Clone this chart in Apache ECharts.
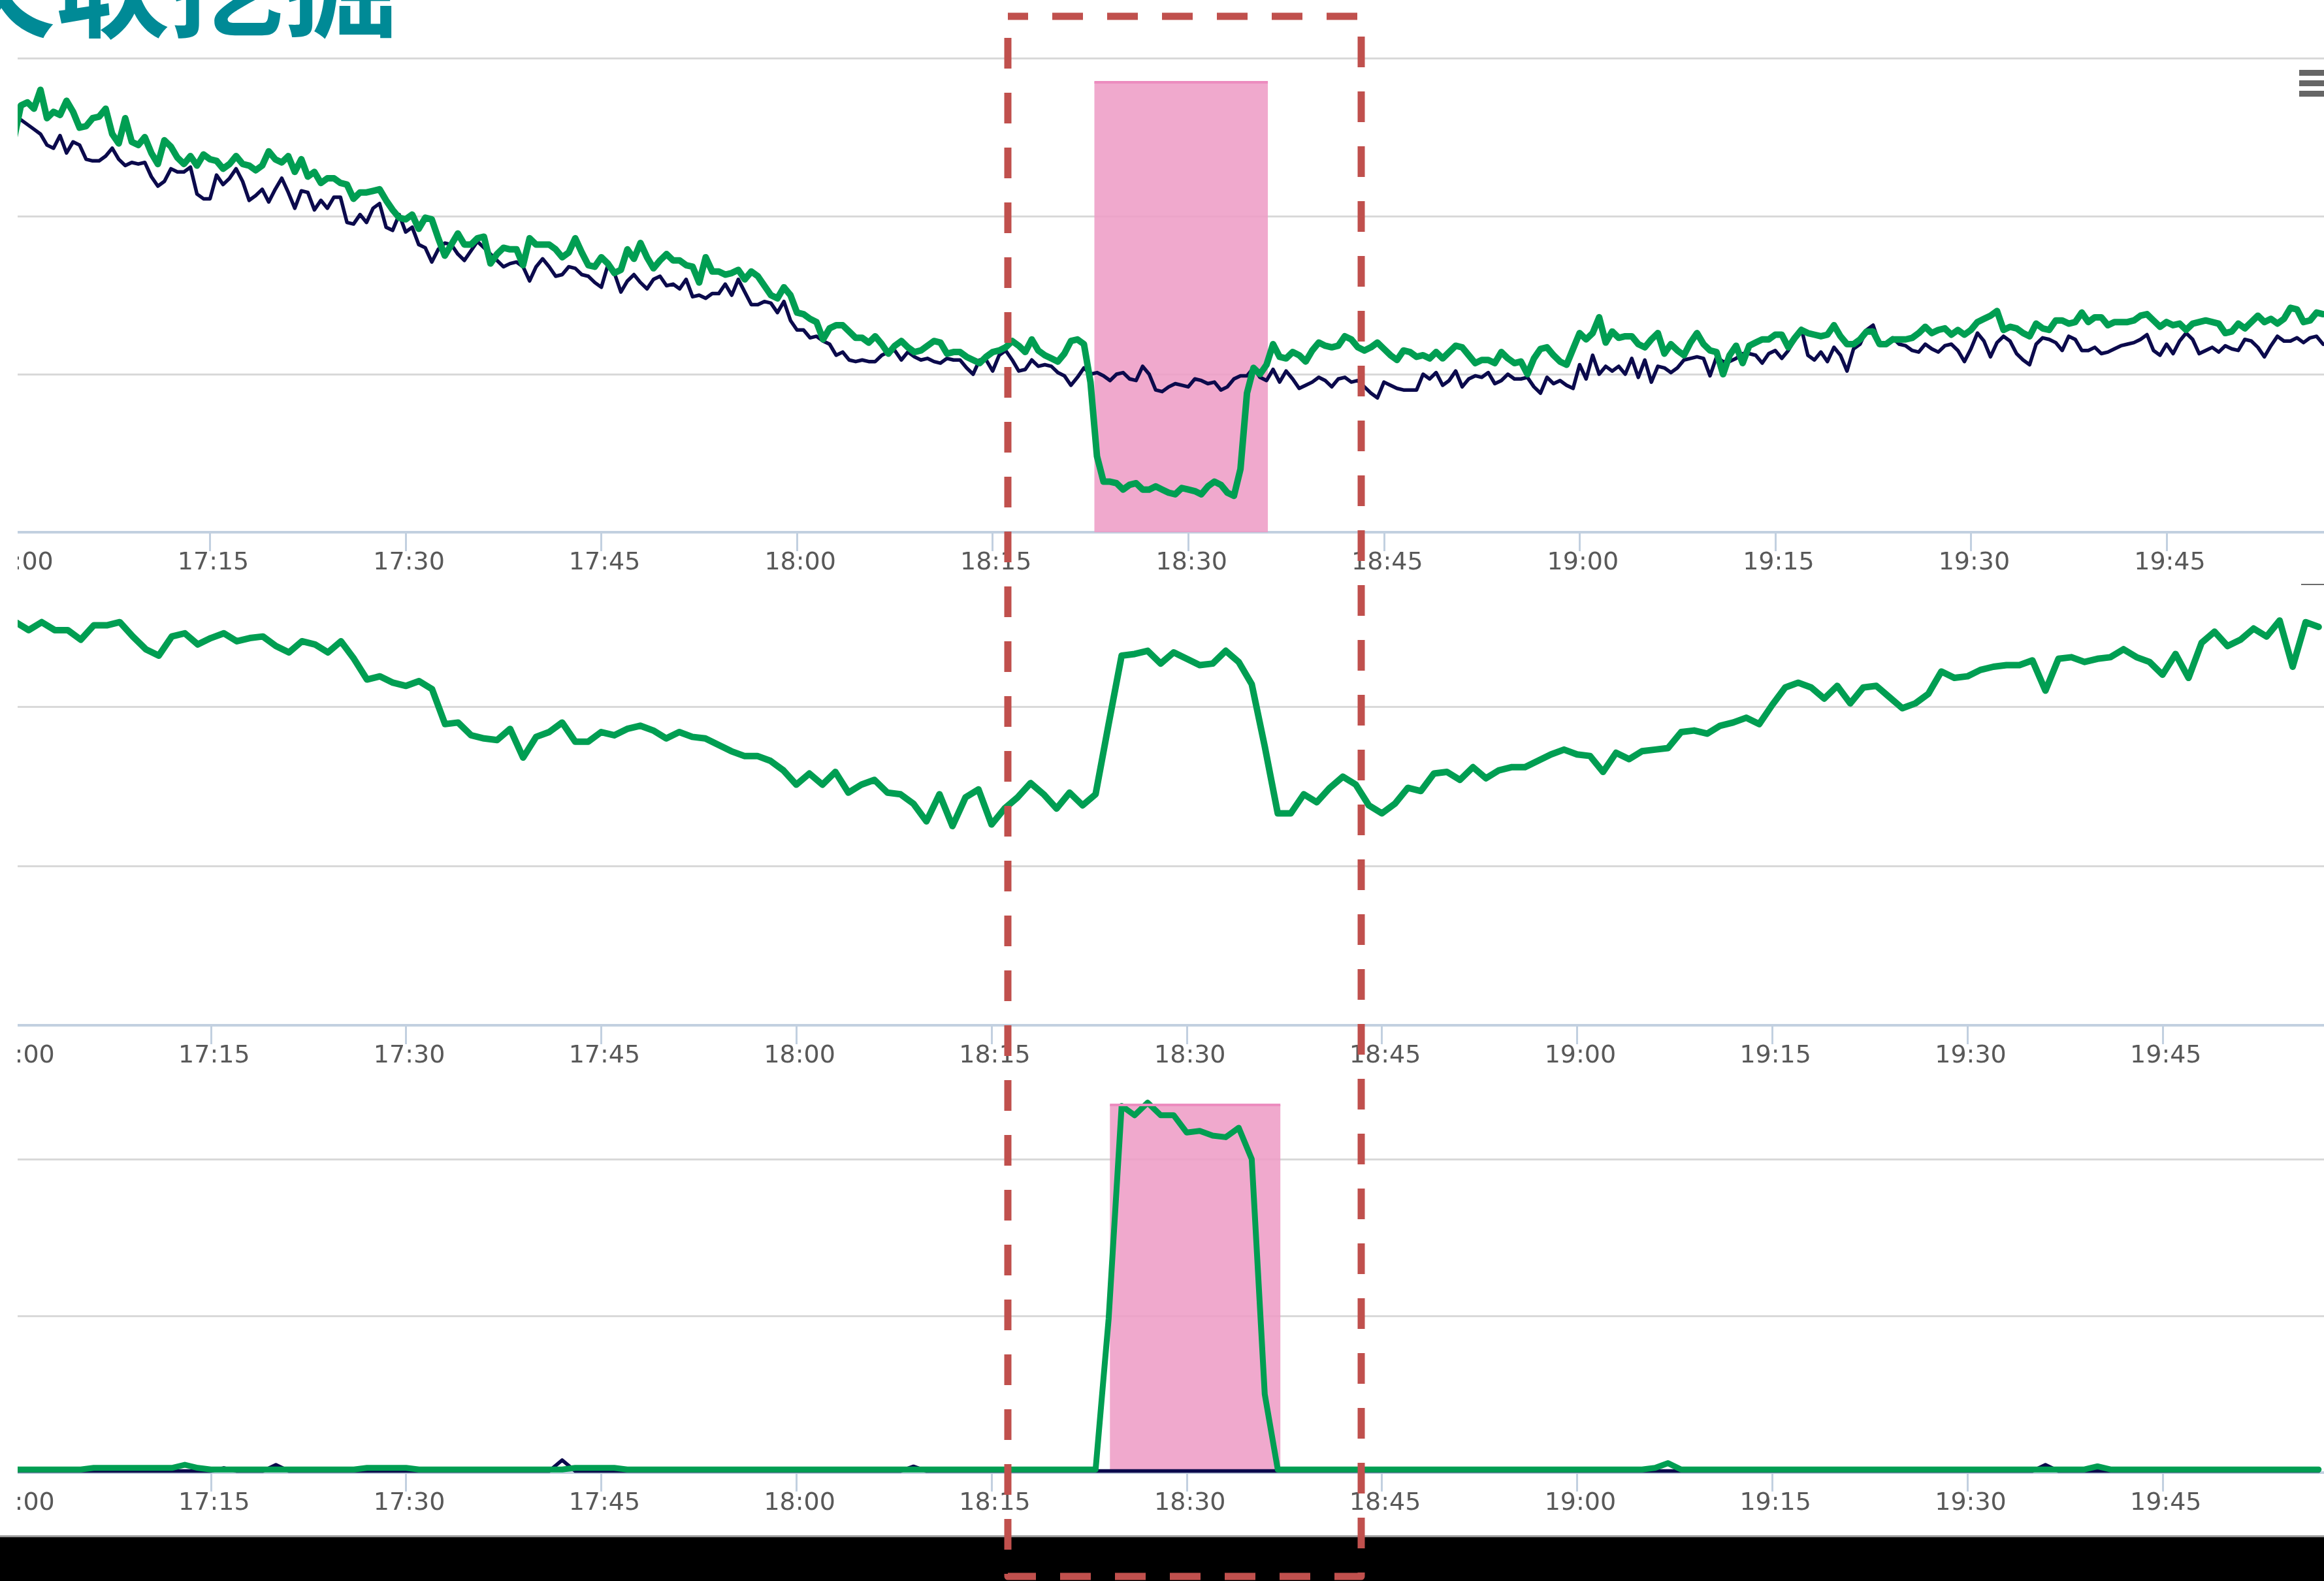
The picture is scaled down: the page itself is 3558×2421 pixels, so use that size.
<!DOCTYPE html>
<html>
<head>
<meta charset="utf-8">
<script src="https://cdn.jsdelivr.net/npm/echarts@6.0.0/dist/echarts.min.js"></script>
<style>
html,body{margin:0;padding:0;background:#fff;}
#main{width:3558px;height:2421px;}
</style>
</head>
<body>
<div id="main"></div>
<script>
// minutes after 17:00 on every x axis
var startHour = 17;
var step1 = 0.5;   // top chart sampled every 30 s
var step2 = 1;     // other two every minute

// top chart, dark line
var navy1 = [
262,261,258,255,252,245,243,251,240,247,
245,236,235,235,238,243,236,232,234,233,
234,225,219,222,230,228,228,231,214,211,
211,226,220,224,230,222,210,213,217,209,
217,224,215,205,216,215,204,210,205,212,
212,196,195,201,196,205,208,193,191,201,
190,193,182,180,171,179,183,182,176,172,
178,184,180,176,172,168,170,171,168,159,
168,173,168,162,163,168,167,163,162,158,
155,169,164,152,159,163,158,154,160,162,
156,157,154,160,149,150,148,151,151,157,
150,160,152,144,144,146,145,139,146,134,
128,128,123,124,121,119,112,114,109,108,
109,108,108,112,114,115,109,114,111,109,
110,108,107,110,109,109,104,100,109,109,
102,112,115,109,102,103,109,105,106,105,
101,99,93,98,104,100,101,99,96,100,
101,97,96,105,100,90,89,92,94,93,
92,97,96,94,95,90,92,97,99,99,
104,98,96,103,95,102,97,91,93,95,
98,96,92,97,98,95,96,92,88,85,
95,93,91,90,90,90,100,97,101,93,
96,102,92,97,99,98,101,94,96,100,
97,97,98,92,88,98,94,96,93,91,
106,97,112,100,105,102,105,100,110,98,
109,95,105,104,101,104,109,110,111,110,
99,111,108,108,110,113,113,112,107,113,
115,110,115,122,129,112,109,114,108,117,
112,102,116,119,128,131,119,120,123,119,
118,115,114,119,116,114,118,119,115,108,
116,126,121,111,120,124,121,113,109,106,
119,123,122,120,115,124,122,115,115,117,
113,114,116,118,119,120,122,125,115,112,
119,113,121,126,122,113,115,117,114,118,
116,115,122,121,117,111,118,124,121,121,
123,120,123,124,119
];
// top chart, green line
var green1 = [
250,270,272,268,280,262,266,264,273,266,
256,257,262,263,268,252,246,262,247,245,
250,240,233,248,244,237,233,238,232,239,
236,235,230,233,238,233,232,229,232,241,
236,234,238,228,236,225,228,221,224,224,
221,220,211,215,215,216,217,210,204,199,
198,201,192,199,198,186,175,182,189,182,
182,186,187,170,176,180,179,179,169,186,
182,182,182,179,174,177,186,177,169,168,
174,170,164,166,179,173,183,174,167,172,
176,172,172,169,168,158,174,165,165,163,
164,166,160,165,162,156,150,148,155,150,
139,138,135,133,122,129,131,131,127,123,
123,120,124,119,113,118,121,117,114,115,
118,121,120,113,114,114,111,109,107,111,
114,115,117,121,118,114,122,115,112,110,
108,113,121,122,119,95,48,32,32,31,
27,30,31,27,27,29,27,25,24,28,
27,26,24,29,32,30,25,23,40,88,
104,100,106,119,111,110,114,112,108,115,
120,118,117,118,124,122,117,115,117,120,
116,112,109,115,114,111,112,110,114,110,
114,118,117,112,107,109,109,107,114,110,
107,108,100,110,116,117,112,108,106,116,
126,122,126,136,120,127,123,124,124,119,
117,122,126,113,119,115,112,120,126,119,
115,114,100,112,118,107,118,120,122,122,
125,125,117,123,128,126,125,124,125,131,
124,119,119,122,127,127,119,119,122,122,
122,123,126,130,126,128,129,125,128,125,
128,133,135,137,140,128,130,129,126,124,
132,129,128,134,134,132,133,139,133,136,
136,131,133,133,133,134,137,138,134,130,
133,131,132,128,132,133,134,133,132,126,
127,132,129,133,137,133,135,132,135,142,
141,133,134,139,138
];
// middle chart
var green2 = [
253,248,253,248,248,242,251,251,253,244,
236,232,244,246,239,243,246,241,243,244,
238,234,241,239,234,241,230,217,219,215,
213,216,211,189,190,182,180,179,186,168,
181,184,190,178,178,184,182,186,188,185,
180,184,181,180,176,172,169,169,166,160,
151,158,151,159,146,151,154,146,145,139,
128,145,125,143,148,126,136,143,152,145,
136,146,138,145,189,232,233,235,227,234,
230,226,227,235,228,214,175,133,133,145,
140,149,156,151,138,133,139,149,147,158,
159,154,162,155,160,162,162,166,170,173,
170,169,159,171,167,172,173,174,184,185,
183,188,190,193,189,201,212,215,212,205,
213,202,212,213,206,199,202,208,222,218,
219,223,225,226,226,229,210,230,231,228,
230,231,236,231,228,220,233,218,240,247,
238,242,249,244,254,225,253,250
];
// bottom chart
var navy3 = [
1,1,1,1,1,1,1,1,1,1,
1,1,1,1,1,1,3,1,1,1,
5,1,1,1,1,1,1,1,1,1,
1,1,1,1,1,1,1,1,1,1,
1,1,8,1,1,1,1,1,1,1,
1,1,1,1,1,1,1,1,1,1,
1,1,1,1,1,1,1,1,1,4,
1,1,1,1,1,1,1,1,1,1,
1,1,1,1,1,1,1,1,1,1,
1,1,1,1,1,1,1,1,1,1,
1,1,1,1,1,1,1,1,1,1,
1,1,1,1,1,1,1,1,1,1,
1,1,1,1,1,1,1,1,1,1,
1,1,1,1,1,1,1,1,1,1,
1,1,1,1,1,1,1,1,1,1,
1,1,1,1,1,1,5,1,1,1,
1,1,1,1,1,1,1,1,1,1,
1,1,1,1,1,1,1,1
];
var green3 = [
2,2,2,2,2,2,3,3,3,3,
3,3,3,5,3,2,2,2,2,2,
2,2,2,2,2,2,2,3,3,3,
3,2,2,2,2,2,2,2,2,2,
2,2,2,3,3,3,3,2,2,2,
2,2,2,2,2,2,2,2,2,2,
2,2,2,2,2,2,2,2,2,2,
2,2,2,2,2,2,2,2,2,2,
2,2,2,2,98,234,228,236,228,228,
217,218,215,214,220,200,50,2,2,2,
2,2,2,2,2,2,2,2,2,2,
2,2,2,2,2,2,2,2,2,2,
2,2,2,2,2,2,3,6,2,2,
2,2,2,2,2,2,2,2,2,2,
2,2,2,2,2,2,2,2,2,2,
2,2,2,2,2,2,2,2,2,2,
4,2,2,2,2,2,2,2,2,2,
2,2,2,2,2,2,2,2
];
// pink highlighted spans [from, to, top]
var shade1 = [82.8, 96.1, 285];
var shade3 = [84.1, 97.2, 234.6];

var NAVY = '#0B0A4C';
var GREEN = '#009E52';
var PINK = 'rgba(237,154,196,0.85)';

function pairs(arr, step){
	var out = [];
	for(var i=0;i<arr.length;i++) out.push([i*step, arr[i]]);
	return out;
}
function hhmm(v){
	var m = Math.round(v);
	var mm = m % 60;
	return (startHour + Math.floor(m/60)) + ':' + (mm<10?'0':'') + mm;
}
function xaxis(idx, maxv){
	return {
		type:'value', gridIndex:idx, min:0, max:maxv, interval:15,
		axisLine:{lineStyle:{color:'#C2D0E0', width:4}},
		axisTick:{length:29, lineStyle:{color:'#C2D0E0', width:3}},
		axisLabel:{formatter:hhmm, color:'#595959', fontSize:38, fontFamily:'DejaVu Sans', margin:28, padding:[0,0,0,10], showMinLabel:true, showMaxLabel:false},
		splitLine:{show:false}
	};
}
function yaxis(idx, topline){
	return {
		type:'value', gridIndex:idx, min:0, max:300, interval:100,
		axisLabel:{show:false}, axisTick:{show:false}, axisLine:{show:false},
		splitLine:{showMaxLine:topline, lineStyle:{color:'#D9D9D9', width:3}}
	};
}
function shadeSeries(idx, s){ // empty series only carrying the pink block
	return {
		type:'line', xAxisIndex:idx, yAxisIndex:idx, data:[], z:1, silent:true,
		markArea:{silent:true, itemStyle:{color:PINK}, data:[[{coord:[s[0], s[2]]},{coord:[s[1], 0]}]]},
		markLine:{silent:true, symbol:['none','none'], label:{show:false},
			lineStyle:{color:'#EC8CBF', width:4, type:'solid'},
			data:[[{coord:[s[0], s[2]]},{coord:[s[1], s[2]]}]]}
	};
}
function lineSeries(idx, arr, step, color, width, z){
	return {
		type:'line', xAxisIndex:idx, yAxisIndex:idx, data:pairs(arr, step), z:z,
		showSymbol:false, symbol:'none', silent:true,
		lineStyle:{color:color, width:width, join:'round', cap:'round'}
	};
}

var chart = echarts.init(document.getElementById('main'));
var option = {
	backgroundColor:'#ffffff',
	animation:false,
	grid:[
		{left:22, top:89, width:3536, height:726, outerBoundsMode:'none'},
		{left:24, top:838, width:3534, height:732, outerBoundsMode:'none'},
		{left:24, top:1535, width:3534, height:720, outerBoundsMode:'none'}
	],
	xAxis:[xaxis(0, 177.07), xaxis(1, 177.41), xaxis(2, 177.41)],
	yAxis:[yaxis(0, true), yaxis(1, false), yaxis(2, false)],
	series:[
		shadeSeries(0, shade1),
		lineSeries(0, navy1, step1, NAVY, 5.5, 2),
		lineSeries(0, green1, step1, GREEN, 10, 3),
		lineSeries(1, green2, step2, GREEN, 10, 3),
		shadeSeries(2, shade3),
		lineSeries(2, navy3, step2, NAVY, 5.5, 2),
		lineSeries(2, green3, step2, GREEN, 9, 3)
	],
	graphic:[
		// slide title, cut by the top edge
		{type:'text', z:100, style:{text:'关联挖掘', x:-90, y:-111, font:'bold 175px "Noto Sans CJK SC"', fill:'#008A96'}},
		// the screenshot is cropped on the left
		{type:'rect', z:100, shape:{x:0, y:60, width:27, height:2292}, style:{fill:'#ffffff'}},
		// toolbox menu icon
		{type:'rect', z:100, shape:{x:3520, y:107, width:38, height:9}, style:{fill:'#666666'}},
		{type:'rect', z:100, shape:{x:3520, y:123, width:38, height:9}, style:{fill:'#666666'}},
		{type:'rect', z:100, shape:{x:3520, y:139, width:38, height:9}, style:{fill:'#666666'}},
		{type:'rect', z:100, shape:{x:3523, y:894, width:35, height:2}, style:{fill:'#6B6B6B'}},
		// dark strip at the bottom
		{type:'rect', z:100, shape:{x:0, y:2351, width:3558, height:3}, style:{fill:'#9A9A9A'}},
		{type:'rect', z:100, shape:{x:0, y:2354, width:3558, height:67}, style:{fill:'#000000'}},
		// red dashed frame
		{type:'rect', z:110, shape:{x:1543, y:25, width:541, height:2389},
			style:{fill:'none', stroke:'#C0504D', lineWidth:11, lineDash:[47,37], lineDashOffset:16, lineJoin:'round'}}
	]
};
chart.setOption(option);
</script>
</body>
</html>
